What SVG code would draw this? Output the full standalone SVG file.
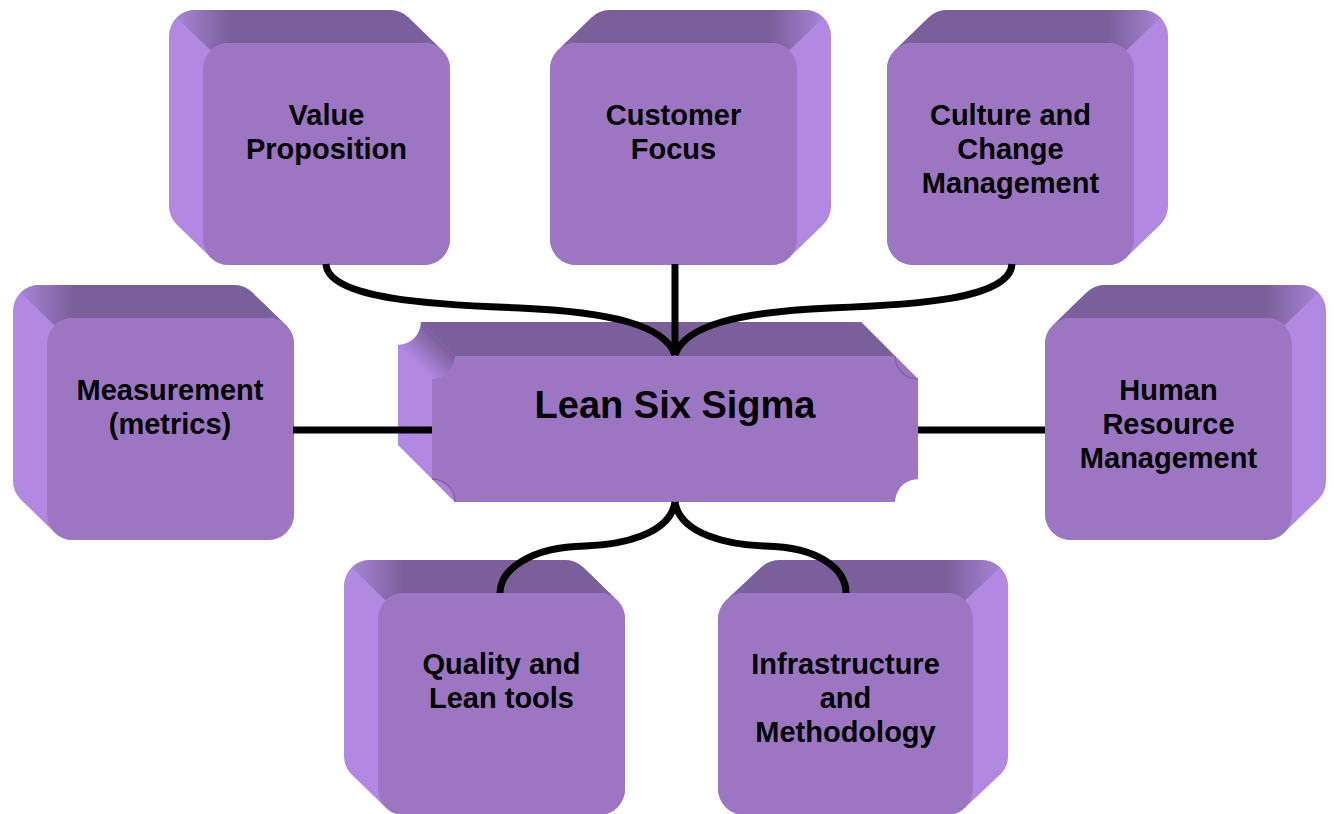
<svg xmlns="http://www.w3.org/2000/svg" xmlns:xlink="http://www.w3.org/1999/xlink" width="1334" height="814" viewBox="0 0 1334 814">
<style>
.lbl{font-family:"Liberation Sans",Arial,sans-serif;font-weight:bold;font-size:29px;fill:#000;text-anchor:middle}
.big{font-size:38px}
.side{fill:#b188e2}
.front{fill:#9d76c3}
.conn{fill:none;stroke:#000;stroke-width:7}
.notchline{fill:none;stroke:#8462a8;stroke-width:1.5}
</style>
<defs>
<linearGradient id="topG" x1="0" y1="0" x2="1" y2="0">
<stop offset="0" stop-color="#a584d4"/>
<stop offset="0.2" stop-color="#7b5f9a"/>
<stop offset="0.92" stop-color="#7b5f9a"/>
<stop offset="1" stop-color="#8466a6"/>
</linearGradient>
<linearGradient id="tlG" gradientUnits="userSpaceOnUse" x1="415" y1="362" x2="438" y2="339">
<stop offset="0" stop-color="#b188e2"/>
<stop offset="1" stop-color="#7b5f9a"/>
</linearGradient>
<g id="box3d">
<path class="side" d="M -8,-33 L 187,-33 A 26 26 0 0 1 205.38,-25.38 L 239.38,7.62 A 26 26 0 0 1 247,26 L 247,196 A 26 26 0 0 1 221,222 L 26,222 A 26 26 0 0 1 7.62,214.38 L -26.38,181.38 A 26 26 0 0 1 -34,163 L -34,-7 A 26 26 0 0 1 -8,-33 Z"/>
<path fill="url(#topG)" d="M -26.38,-25.38 A 26 26 0 0 1 -8,-33 L 187,-33 A 26 26 0 0 1 205.38,-25.38 L 239.38,7.62 A 26 26 0 0 0 221,0 L 26,0 A 26 26 0 0 0 7.62,7.62 Z"/>
<rect class="front" x="0" y="0" width="247" height="222" rx="26" ry="26"/>
</g>
</defs>

<g id="center">
<path class="side" d="M 421,322 L 861,322 L 918,379 L 918,479 A 23 23 0 0 0 895,502 L 455,502 L 398,445 L 398,345 A 23 23 0 0 0 421,322 Z"/>
<path fill="#7b5f9a" d="M 421,322 L 861,322 L 895,356 L 455,356 Z"/>
<path fill="url(#tlG)" d="M 398,345 A 23 23 0 0 0 421,322 L 455,356 A 23 23 0 0 1 432,379 Z"/>
<path fill="#9a74c0" d="M 861,322 L 918,379 A 23 23 0 0 1 895,356 Z"/>
<path fill="#ab83d8" d="M 398,445 L 455,502 A 23 23 0 0 0 432,479 Z"/>
<path class="front" d="M 455,356 L 895,356 A 23 23 0 0 0 918,379 L 918,479 A 23 23 0 0 0 895,502 L 455,502 A 23 23 0 0 0 432,479 L 432,379 A 23 23 0 0 0 455,356 Z"/>
<path class="notchline" d="M 895,356 A 23 23 0 0 0 918,379"/>
<path class="notchline" d="M 432,479 A 23 23 0 0 1 455,502"/>
<text class="lbl big" x="675" y="418">Lean Six Sigma</text>
</g>

<g id="value">
<use href="#box3d" transform="translate(203,43)"/>
<text class="lbl" x="326.5" y="125">Value</text>
<text class="lbl" x="326.5" y="159">Proposition</text>
</g>

<g id="customer">
<use href="#box3d" transform="translate(797,43) scale(-1,1)"/>
<text class="lbl" x="673.5" y="125">Customer</text>
<text class="lbl" x="673.5" y="159">Focus</text>
</g>

<g id="culture">
<use href="#box3d" transform="translate(1134,43) scale(-1,1)"/>
<text class="lbl" x="1010.5" y="125">Culture and</text>
<text class="lbl" x="1010.5" y="159">Change</text>
<text class="lbl" x="1010.5" y="193">Management</text>
</g>

<g id="measurement">
<use href="#box3d" transform="translate(47,318)"/>
<text class="lbl" x="170" y="400">Measurement</text>
<text class="lbl" x="170" y="434">(metrics)</text>
</g>

<g id="hr">
<use href="#box3d" transform="translate(1292,318) scale(-1,1)"/>
<text class="lbl" x="1168.5" y="400">Human</text>
<text class="lbl" x="1168.5" y="434">Resource</text>
<text class="lbl" x="1168.5" y="468">Management</text>
</g>

<g id="quality">
<use href="#box3d" transform="translate(378,593)"/>
<text class="lbl" x="501.5" y="674">Quality and</text>
<text class="lbl" x="501.5" y="708">Lean tools</text>
</g>

<g id="infra">
<use href="#box3d" transform="translate(973,593) scale(-1.032,1)"/>
<text class="lbl" x="845.5" y="674">Infrastructure</text>
<text class="lbl" x="845.5" y="708">and</text>
<text class="lbl" x="845.5" y="742">Methodology</text>
</g>

<g id="connectors">
<path class="conn" d="M 326,264 C 328,300 440,305 520,308 C 610,312 665,325 675,355"/>
<path class="conn" d="M 675,264 L 675,355"/>
<path class="conn" d="M 1012,264 C 1010,300 910,305 830,308 C 740,312 685,325 675,355"/>
<path class="conn" d="M 293,430 L 432,430"/>
<path class="conn" d="M 918,430 L 1045,430"/>
<path class="conn" d="M 675,502 C 670,535 620,545 585,546 C 530,547 500,570 500,593"/>
<path class="conn" d="M 675,502 C 680,535 730,545 765,546 C 820,547 846,570 846,593"/>
</g>
</svg>
